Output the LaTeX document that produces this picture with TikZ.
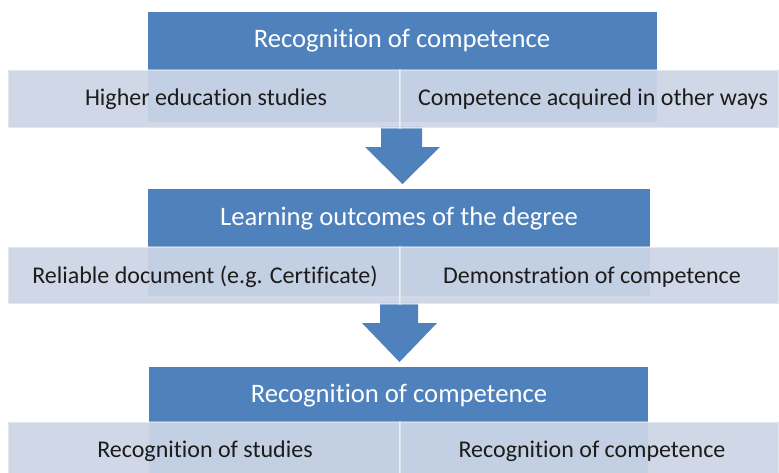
\documentclass[tikz,border=0pt]{standalone}
\usepackage{fontspec}
\setmainfont{Carlito}[Ligatures=NoCommon]

\definecolor{accentblue}{RGB}{79,129,189}
\definecolor{barfill}{RGB}{204,213,229}
\definecolor{bartext}{RGB}{28,28,28}

\tikzset{every picture/.style={line width=0.75pt}}
\tikzset{
  headfill/.style={fill=accentblue},
  barbox/.style={fill=barfill, fill opacity=0.93, draw=white, draw opacity=0.4, line width=1.5pt},
  headtext/.style={text=white, anchor=base, font=\fontsize{20}{24}\selectfont},
  bartext/.style={text=bartext, anchor=base, font=\fontsize{18}{22}\selectfont}
}

\begin{document}
\begin{tikzpicture}[x=0.75pt,y=0.75pt,yscale=-1,xscale=1]
%set diagram left start at 0, and has height of 472
\clip (0,0) rectangle (779,472);

%Shape: Rectangle [head 1]
\fill [headfill] (148,12) rectangle (657,122) ;
%Shape: Rectangle [head 2]
\fill [headfill] (148,189) rectangle (650,296) ;
%Shape: Rectangle [head 3]
\fill [headfill] (149,367) rectangle (648,476) ;

%Shape: Down Arrow [arrow 1]
\fill [headfill] (381,126) -- (422,126) -- (422,147) -- (440,147) -- (402.5,184) -- (365,147) -- (381,147) -- cycle ;
%Shape: Down Arrow [arrow 2]
\fill [headfill] (380,302) -- (418,302) -- (418,323) -- (437,323) -- (399.5,362) -- (362,323) -- (380,323) -- cycle ;

%Shape: Rectangle [bars]
\draw [barbox] (8,70) rectangle (400,128) ;
\draw [barbox] (400,70) rectangle (779,128) ;
\draw [barbox] (8,247) rectangle (400,304) ;
\draw [barbox] (400,247) rectangle (779,304) ;
\draw [barbox] (8,422) rectangle (400,479) ;
\draw [barbox] (400,422) rectangle (779,479) ;

% Text Node
\draw (402,47) node [headtext] (head1) {Recognition of competence};
% Text Node
\draw (206,105) node [bartext] (higher) {Higher education studies};
% Text Node
\draw (593,105) node [bartext] (other) {Competence acquired in other ways};
% Text Node
\draw (399,225) node [headtext] (head2) {Learning outcomes of the degree};
% Text Node
\draw (205,283) node [bartext] (reliable) {Reliable document (e.g. Certificate)};
% Text Node
\draw (592,283) node [bartext] (demo) {Demonstration of competence};
% Text Node
\draw (399,402) node [headtext] (head3) {Recognition of competence};
% Text Node
\draw (205,457) node [bartext] (studies) {Recognition of studies};
% Text Node
\draw (592,457) node [bartext] (recog) {Recognition of competence};

\end{tikzpicture}
\end{document}
